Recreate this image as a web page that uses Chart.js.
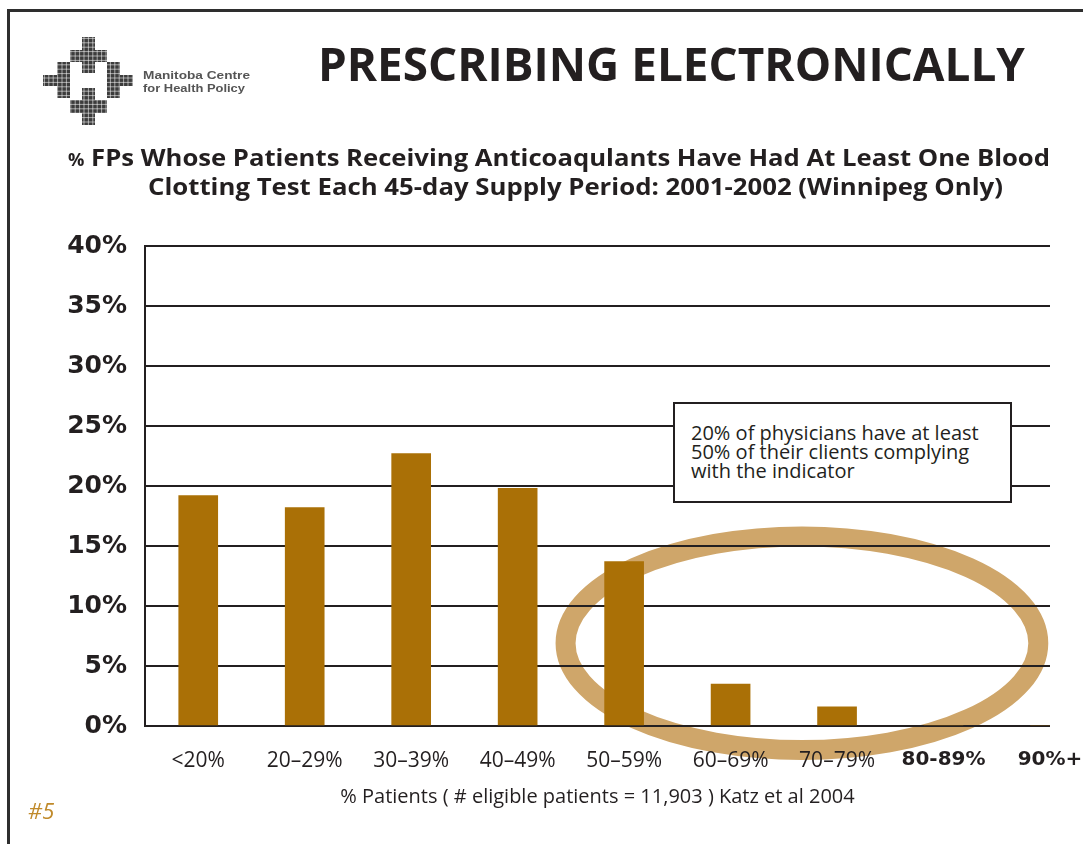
<!DOCTYPE html>
<html>
<head>
<meta charset="utf-8">
<script src="https://cdn.jsdelivr.net/npm/chart.js@4/dist/chart.umd.min.js"></script>
<style>
html, body { margin: 0; padding: 0; background: #fff; }
#wrap { position: relative; width: 1083px; height: 844px; overflow: hidden; }
#frame { position: absolute; left: 7px; top: 9px; width: 1100px; height: 900px; border-left: 3px solid #2e2e2e; border-top: 3px solid #2e2e2e; }
#chart { position: absolute; left: 0; top: 0; }
.txt { position: absolute; white-space: nowrap; line-height: 1; transform-origin: left top; color: #231f20; }
#title { left: 318px; top: 32px; font: 700 46px "Open Sans"; }
#sub1 { left: 68px; top: 140px; font: 700 24px "Open Sans"; }
#sub2 { left: 148px; top: 169px; font: 700 24px "Open Sans"; }
#logotxt1 { left: 143px; top: 69px; font: 700 11px "Liberation Sans"; color: #555; filter: blur(0.5px); }
#logotxt2 { left: 143px; top: 82px; font: 700 11px "Liberation Sans"; color: #555; filter: blur(0.5px); }
#page { left: 28px; top: 795px; font: italic 400 22px "Open Sans"; color: #c08a2a; }
#logo { position: absolute; left: 40px; top: 34px; filter: blur(0.4px); }
#note { position: absolute; left: 673px; top: 402px; width: 339px; height: 101px; box-sizing: border-box;
        border: 2px solid #231f20; background: #fff; padding: 19px 0 0 16px;
        font: 400 20px/19px "Open Sans"; color: #231f20; }
</style>
</head>
<body>
<div id="wrap">
  <div id="frame"></div>
  <canvas id="chart" width="1083" height="844"></canvas>
  <canvas id="logo" width="100" height="96"></canvas>
  <div class="txt" id="logotxt1">Manitoba Centre</div>
  <div class="txt" id="logotxt2">for Health Policy</div>
  <div class="txt" id="title">PRESCRIBING ELECTRONICALLY</div>
  <div class="txt" id="sub1"><span style="font-size:17px">%</span> FPs Whose Patients Receiving Anticoaqulants Have Had At Least One Blood</div>
  <div class="txt" id="sub2">Clotting Test Each 45-day Supply Period: 2001-2002 (Winnipeg Only)</div>
  <div id="note">20% of physicians have at least<br>50% of their clients complying<br>with the indicator</div>
  <div class="txt" id="page">#5</div>
</div>
<script>
// data
const categories = ['<20%', '20–29%', '30–39%', '40–49%', '50–59%', '60–69%', '70–79%', '80-89%', '90%+'];
const physicians = [19.2, 18.2, 22.7, 19.8, 13.7, 3.5, 1.6, 0, 0];
const yTicks = [0, 5, 10, 15, 20, 25, 30, 35, 40];
const xTitle = '% Patients ( # eligible patients = 11,903 ) Katz et al 2004';

// highlight ring, in axis units
const ring = { x: 5.67, y: 6.9, rx: 2.22, ry: 8.9 };

const ringPlugin = {
  id: 'ring',
  beforeDraw(chart) {
    const { ctx, scales: { x, y } } = chart;
    const cx = x.getPixelForValue(ring.x), cy = y.getPixelForValue(ring.y);
    const rx = x.getPixelForValue(ring.x + ring.rx) - cx;
    const ry = cy - y.getPixelForValue(ring.y + ring.ry);
    ctx.save();
    ctx.beginPath();
    ctx.ellipse(cx, cy, rx, ry, 0, 0, Math.PI * 2);
    ctx.lineWidth = 20;
    ctx.strokeStyle = '#cfa66a';
    ctx.stroke();
    ctx.restore();
  }
};

new Chart(document.getElementById('chart'), {
  type: 'bar',
  data: {
    datasets: [{
      data: physicians.map((v, i) => ({ x: i, y: v })),
      backgroundColor: '#aa7006',
      borderWidth: 0,
      barThickness: 39
    }]
  },
  options: {
    responsive: false,
    animation: false,
    devicePixelRatio: 1,
    layout: { padding: { left: 0, top: 246, right: 33, bottom: 0 } },
    plugins: { legend: { display: false }, tooltip: { enabled: false } },
    scales: {
      x: {
        type: 'linear',
        min: -0.5,
        max: categories.length - 1,
        offset: false,
        afterBuildTicks: s => { s.ticks = categories.map((c, i) => ({ value: i })); },
        afterFit: s => { s.height = 118; s.paddingLeft = 0; s.paddingRight = 0; },
        grid: { display: false },
        border: { display: false },
        ticks: {
          autoSkip: false,
          maxRotation: 0,
          padding: 14,
          color: '#231f20',
          callback: v => categories[v],
          font: c => c.index >= 7
            ? { family: 'DejaVu Sans', size: 20, weight: 'bold' }
            : { family: 'Open Sans', size: 21 }
        },
        title: {
          display: true,
          text: xTitle,
          color: '#231f20',
          font: { family: 'Open Sans', size: 20 },
          padding: { top: 0, bottom: 35 }
        }
      },
      y: {
        min: 0,
        max: 40,
        afterBuildTicks: s => { s.ticks = yTicks.map(v => ({ value: v })); },
        afterFit: s => { s.width = 145; },
        grid: { color: '#231f20', lineWidth: 2, drawTicks: false },
        border: { display: true, color: '#231f20', width: 2 },
        ticks: {
          padding: 18,
          color: '#231f20',
          font: { family: 'DejaVu Sans', size: 25, weight: 'bold' },
          callback: v => v + '%'
        }
      }
    }
  },
  plugins: [ringPlugin]
});

// logo: four crosses of little squares
const lg = document.getElementById('logo').getContext('2d');
const pieces = [
  [42, 3, 55, 39], [30, 16, 67, 28],
  [42, 54, 55, 91], [30, 66, 67, 79],
  [17, 28, 30, 64], [3, 41, 30, 52],
  [67, 28, 80, 64], [67, 41, 93, 52]
];
pieces.forEach(([x0, y0, x1, y1]) => {
  lg.fillStyle = '#3c3c3c';
  lg.fillRect(x0, y0, x1 - x0, y1 - y0);
});
lg.strokeStyle = 'rgba(255,255,255,0.55)';
lg.lineWidth = 1;
for (let p = 0; p < 100; p += 4.4) {
  lg.beginPath(); lg.moveTo(p, 0); lg.lineTo(p, 96); lg.stroke();
  lg.beginPath(); lg.moveTo(0, p); lg.lineTo(100, p); lg.stroke();
}

function fit(id, w) {
  const el = document.getElementById(id);
  el.style.transform = 'none';
  const r = w / el.getBoundingClientRect().width;
  el.style.transform = 'scaleX(' + r + ')';
}
function fitAll() {
  fit('title', 707);
  fit('sub1', 982);
  fit('sub2', 855);
  fit('logotxt1', 107);
  fit('logotxt2', 102);
}
fitAll();
document.fonts.ready.then(fitAll);
</script>
</body>
</html>
